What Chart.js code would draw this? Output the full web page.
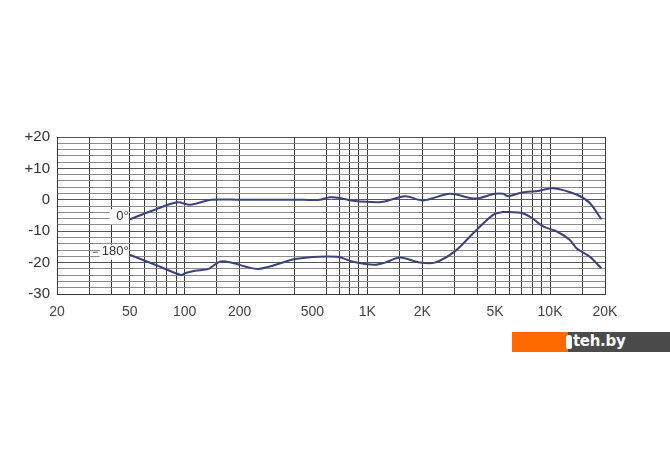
<!DOCTYPE html>
<html>
<head>
<meta charset="utf-8">
<script src="https://cdn.jsdelivr.net/npm/chart.js@4/dist/chart.umd.min.js"></script>
<style>
  html, body { margin: 0; padding: 0; background: #fff; }
  #wrap { position: relative; width: 670px; height: 471px; }
  #badge { position: absolute; left: 512px; top: 332px; width: 158px; height: 20px; }
  #badge .o { position: absolute; left: 0; top: 0; width: 56px; height: 20px; background: #ff6a00; }
  #badge .g { position: absolute; left: 56px; top: 0; width: 102px; height: 20px; background: #4b4b4b; }
  #badge .logo { position: absolute; left: 54px; top: 3px; width: 6px; height: 14px; background: #fff; border-radius: 3px 3px 2px 2px; }
  #badge .t { position: absolute; left: 61px; top: 0; line-height: 19px; color: #fff;
              font: bold 15px "DejaVu Sans", sans-serif; letter-spacing: -0.3px; }
</style>
</head>
<body>
<div id="wrap">
  <canvas id="chart" width="670" height="471"></canvas>
  <div id="badge"><div class="o"></div><div class="g"></div><div class="logo"></div><div class="t">teh.by</div></div>
</div>
<script>
// 0 degree response
const freq0 = [50, 67, 91, 107, 140, 200, 300, 450, 550, 624, 706, 834, 1190, 1610, 2020, 2830, 3880, 5000, 5540, 5900, 6860, 8770, 10400, 13960, 16500, 19100];
const db0   = [-6.2, -3.4, -0.8, -1.6, 0, 0, 0, 0, 0, 0.8, 0.6, -0.3, -0.7, 1.1, -0.2, 1.9, 0.4, 1.9, 1.9, 1.1, 2.2, 2.9, 3.7, 1.7, -1.0, -6.2];

// 180 degree response
const freq180 = [50, 69, 96, 100, 114, 135, 156, 177, 253, 410, 682, 834, 1100, 1250, 1510, 1940, 2340, 3000, 3880, 4900, 5500, 6050, 7000, 7970, 9180, 10900, 12800, 13960, 16500, 19100];
const db180   = [-17.5, -20.7, -24.0, -23.4, -22.6, -22.0, -19.7, -19.9, -22.0, -18.8, -18.1, -19.7, -20.7, -20.0, -18.4, -20.0, -20.0, -16.5, -10.1, -4.7, -3.9, -3.9, -4.2, -5.8, -8.5, -10.1, -12.7, -15.4, -18.1, -21.8];

// x axis: grid lines and labelled frequencies
const gridFreqs = [20, 30, 40, 50, 60, 70, 80, 90, 100, 150, 200, 400, 600, 700, 800, 900, 1000, 1500, 2000, 3000, 4000, 5000, 6000, 7000, 8000, 9000, 10000, 15000, 20000];
const labelFreqs = [20, 50, 100, 200, 500, 1000, 2000, 5000, 10000, 20000];
const labelText  = ['20', '50', '100', '200', '500', '1K', '2K', '5K', '10K', '20K'];

const curveColor = '#3d4279';
const fontFamily = '"Liberation Sans", Arial, sans-serif';

const toPoints = (xs, ys) => xs.map((x, i) => ({ x: x, y: ys[i] }));

const curveLabels = {
  id: 'curveLabels',
  afterDatasetsDraw(chart) {
    const ctx = chart.ctx;
    const xs = chart.scales.x, ys = chart.scales.y;
    const items = [
      { text: '0°', f: freq0[0], v: db0[0], w: 18 },
      { text: '180°', f: freq180[0], v: db180[0], w: 28 }
    ];
    ctx.save();
    ctx.font = '13px ' + fontFamily;
    ctx.textAlign = 'right';
    ctx.textBaseline = 'middle';
    items.forEach((it, i) => {
      const px = xs.getPixelForValue(it.f);
      const py = ys.getPixelForValue(it.v) - 3;
      ctx.fillStyle = '#fff';
      ctx.fillRect(px - it.w - 2, py - 7, it.w + 1, 15);
      ctx.fillStyle = '#333';
      ctx.fillText(it.text, px - 1, py);
      if (i === 1) {
        ctx.strokeStyle = '#555';
        ctx.lineWidth = 1;
        ctx.beginPath();
        ctx.moveTo(px - it.w - 9, py + 0.5);
        ctx.lineTo(px - it.w - 4, py + 0.5);
        ctx.stroke();
      }
    });
    ctx.restore();
  }
};

new Chart(document.getElementById('chart').getContext('2d'), {
  type: 'line',
  data: {
    datasets: [
      { label: '0°', data: toPoints(freq0, db0), borderColor: curveColor, borderWidth: 2, pointRadius: 0, tension: 0.3, fill: false },
      { label: '180°', data: toPoints(freq180, db180), borderColor: curveColor, borderWidth: 2, pointRadius: 0, tension: 0.3, fill: false }
    ]
  },
  options: {
    responsive: false,
    animation: false,
    layout: { padding: { top: 137, right: 65, bottom: 147, left: 0 } },
    plugins: { legend: { display: false }, tooltip: { enabled: false } },
    scales: {
      x: {
        type: 'logarithmic',
        min: 20,
        max: 20000,
        afterBuildTicks(scale) {
          const vals = Array.from(new Set(gridFreqs.concat(labelFreqs))).sort((a, b) => a - b);
          scale.ticks = vals.map(v => ({ value: v }));
        },
        afterFit(scale) { scale.height = 30; },
        grid: {
          drawTicks: false,
          color: c => (c.tick && gridFreqs.includes(c.tick.value)) ? '#3a3a3a' : 'rgba(0,0,0,0)',
          lineWidth: 1
        },
        border: { color: '#3a3a3a' },
        ticks: {
          autoSkip: false,
          maxRotation: 0,
          padding: 10,
          color: '#444',
          font: { family: fontFamily, size: 14 },
          callback: v => {
            const i = labelFreqs.indexOf(v);
            return i >= 0 ? labelText[i] : '';
          }
        }
      },
      y: {
        type: 'linear',
        min: -30,
        max: 20,
        afterFit(scale) { scale.width = 57; },
        grid: {
          drawTicks: false,
          color: c => (c.tick && c.tick.value % 10 === 0) ? '#555' : '#8a8a8a',
          lineWidth: 1
        },
        border: { color: '#3a3a3a' },
        ticks: {
          stepSize: 2,
          autoSkip: false,
          padding: 7,
          color: '#333',
          font: { family: fontFamily, size: 15 },
          callback: v => v % 10 === 0 ? (v > 0 ? '+' + v : String(v)) : ''
        }
      }
    }
  },
  plugins: [curveLabels]
});
</script>
</body>
</html>
